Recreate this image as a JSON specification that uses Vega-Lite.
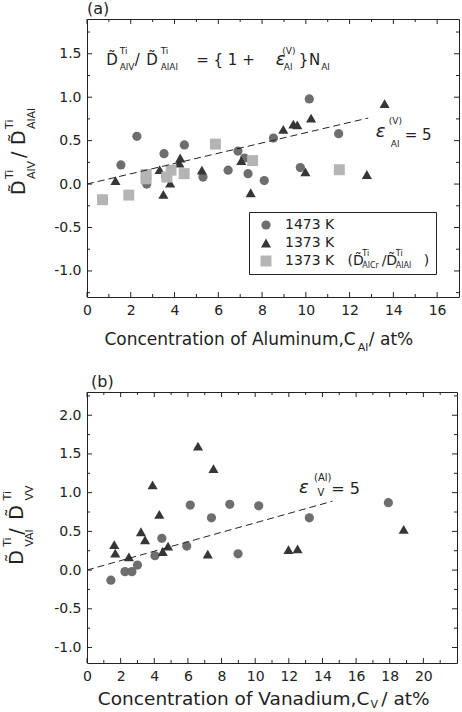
{
"$schema": "https://vega.github.io/schema/vega-lite/v6.json",
"padding": {"left": 1, "top": 0, "right": 0, "bottom": 0},
"spacing": 95,
"bounds": "flush",
"config": {
  "font": "DejaVu Sans",
  "view": {"stroke": "#222", "strokeWidth": 1},
  "axis": {"domain": false, "ticks": false, "tickSize": 0, "grid": false, "labelColor": "#222", "labelFont": "DejaVu Sans", "labelFontSize": 14, "title": null, "labelFlush": false, "labelPadding": 6},
  "text": {"font": "DejaVu Sans", "color": "#222"},
  "title": {"font": "DejaVu Sans", "fontSize": 16, "fontWeight": "normal", "color": "#222", "anchor": "start", "frame": "group"}
},
"datasets": {
  "ptsA": [
    {"s":"1473 K","c":1.55,"r":0.22},{"s":"1473 K","c":2.28,"r":0.55},{"s":"1473 K","c":2.73,"r":0.0},{"s":"1473 K","c":3.52,"r":0.35},{"s":"1473 K","c":3.6,"r":0.09},{"s":"1473 K","c":4.45,"r":0.45},{"s":"1473 K","c":5.3,"r":0.08},{"s":"1473 K","c":6.45,"r":0.16},{"s":"1473 K","c":6.9,"r":0.38},{"s":"1473 K","c":7.2,"r":0.30},{"s":"1473 K","c":7.36,"r":0.12},{"s":"1473 K","c":8.1,"r":0.04},{"s":"1473 K","c":8.52,"r":0.53},{"s":"1473 K","c":9.75,"r":0.19},{"s":"1473 K","c":10.16,"r":0.98},{"s":"1473 K","c":11.5,"r":0.58},
    {"s":"1373 K","c":1.3,"r":0.04},{"s":"1373 K","c":3.32,"r":0.165},{"s":"1373 K","c":3.49,"r":-0.12},{"s":"1373 K","c":3.8,"r":0.01},{"s":"1373 K","c":4.22,"r":0.24},{"s":"1373 K","c":4.26,"r":0.30},{"s":"1373 K","c":5.25,"r":0.16},{"s":"1373 K","c":7.05,"r":0.27},{"s":"1373 K","c":7.48,"r":-0.10},{"s":"1373 K","c":8.97,"r":0.63},{"s":"1373 K","c":9.43,"r":0.69},{"s":"1373 K","c":9.61,"r":0.68},{"s":"1373 K","c":9.98,"r":0.14},{"s":"1373 K","c":10.24,"r":0.76},{"s":"1373 K","c":12.79,"r":0.11},{"s":"1373 K","c":13.6,"r":0.925},
    {"s":"1373 K AlCr","c":0.71,"r":-0.18},{"s":"1373 K AlCr","c":1.91,"r":-0.127},{"s":"1373 K AlCr","c":2.7,"r":0.11},{"s":"1373 K AlCr","c":2.7,"r":0.06},{"s":"1373 K AlCr","c":3.65,"r":0.08},{"s":"1373 K AlCr","c":3.84,"r":0.16},{"s":"1373 K AlCr","c":4.44,"r":0.12},{"s":"1373 K AlCr","c":5.87,"r":0.46},{"s":"1373 K AlCr","c":7.57,"r":0.27},{"s":"1373 K AlCr","c":11.53,"r":0.165}
  ],
  "ptsB": [
    {"s":"1473 K","c":1.42,"r":-0.13},{"s":"1473 K","c":2.26,"r":-0.02},{"s":"1473 K","c":2.67,"r":-0.02},{"s":"1473 K","c":3.0,"r":0.065},{"s":"1473 K","c":4.04,"r":0.185},{"s":"1473 K","c":4.45,"r":0.41},{"s":"1473 K","c":5.93,"r":0.31},{"s":"1473 K","c":6.14,"r":0.84},{"s":"1473 K","c":7.4,"r":0.675},{"s":"1473 K","c":8.49,"r":0.85},{"s":"1473 K","c":8.98,"r":0.21},{"s":"1473 K","c":10.21,"r":0.83},{"s":"1473 K","c":13.22,"r":0.675},{"s":"1473 K","c":17.92,"r":0.87},
    {"s":"1373 K","c":1.62,"r":0.33},{"s":"1373 K","c":1.68,"r":0.22},{"s":"1373 K","c":2.49,"r":0.17},{"s":"1373 K","c":3.21,"r":0.495},{"s":"1373 K","c":3.45,"r":0.39},{"s":"1373 K","c":3.9,"r":1.10},{"s":"1373 K","c":4.3,"r":0.72},{"s":"1373 K","c":4.5,"r":0.24},{"s":"1373 K","c":4.82,"r":0.31},{"s":"1373 K","c":6.6,"r":1.60},{"s":"1373 K","c":7.18,"r":0.205},{"s":"1373 K","c":7.52,"r":1.31},{"s":"1373 K","c":11.98,"r":0.265},{"s":"1373 K","c":12.52,"r":0.275},{"s":"1373 K","c":18.83,"r":0.525}
  ],
  "tkAx": [{"v":0},{"v":2},{"v":4},{"v":6},{"v":8},{"v":10},{"v":12},{"v":14},{"v":16}],
  "tkAxm": [{"v":1},{"v":3},{"v":5},{"v":7},{"v":9},{"v":11},{"v":13},{"v":15}],
  "tkAy": [{"v":-1},{"v":-0.5},{"v":0},{"v":0.5},{"v":1},{"v":1.5}],
  "tkAym": [{"v":-1.25},{"v":-0.75},{"v":-0.25},{"v":0.25},{"v":0.75},{"v":1.25},{"v":1.75}],
  "tkBx": [{"v":0},{"v":2},{"v":4},{"v":6},{"v":8},{"v":10},{"v":12},{"v":14},{"v":16},{"v":18},{"v":20}],
  "tkBxm": [{"v":1},{"v":3},{"v":5},{"v":7},{"v":9},{"v":11},{"v":13},{"v":15},{"v":17},{"v":19},{"v":21}],
  "tkBy": [{"v":-1},{"v":-0.5},{"v":0},{"v":0.5},{"v":1},{"v":1.5},{"v":2}],
  "tkBym": [{"v":-0.75},{"v":-0.25},{"v":0.25},{"v":0.75},{"v":1.25},{"v":1.75},{"v":2.25}],
  "lineA": [{"c":0,"r":0},{"c":12.85,"r":0.76}],
  "lineB": [{"c":0,"r":0},{"c":14.6,"r":0.89}],
  "fAmain": [{"t":"D\u0303","c":0.881,"r":1.43},{"t":"/","c":2.178,"r":1.43},{"t":"D\u0303","c":2.708,"r":1.43},{"t":"= { 1 +","c":4.991,"r":1.43},{"t":"}","c":9.68,"r":1.43},{"t":"N","c":10.15,"r":1.43},{"t":"= 5","c":14.52,"r":0.565}],
  "fAsmall": [{"t":"Ti","c":1.493,"r":1.537},{"t":"AlV","c":1.493,"r":1.346},{"t":"Ti","c":3.365,"r":1.537},{"t":"AlAl","c":3.365,"r":1.346},{"t":"(V)","c":8.927,"r":1.537},{"t":"Al","c":8.995,"r":1.346},{"t":"Al","c":10.7,"r":1.346},{"t":"(V)","c":13.79,"r":0.726},{"t":"Al","c":13.88,"r":0.46}],
  "fAeps": [{"t":"ε","c":8.63,"r":1.43},{"t":"ε","c":13.2,"r":0.6}],
  "lgAsmall": [{"t":"Ti","c":12.58,"r":-0.805},{"t":"AlCr","c":12.58,"r":-0.943},{"t":"Ti","c":14.11,"r":-0.805},{"t":"AlAl","c":14.11,"r":-0.943}],
  "ytAmain": [{"t":"D\u0303","c":-3.105,"r":-0.127},{"t":"/","c":-3.105,"r":0.30},{"t":"D\u0303","c":-3.105,"r":0.449}],
  "ytAsmall": [{"t":"Ti","c":-3.516,"r":0.058},{"t":"AlV","c":-2.511,"r":0.058},{"t":"Ti","c":-3.516,"r":0.634},{"t":"AlAl","c":-2.511,"r":0.634}],
  "xtAmain": [{"t":"Concentration of Aluminum,C","c":12.28,"r":-1.8}],
  "xtAsub": [{"t":"Al","c":12.37,"r":-1.89}],
  "xtArest": [{"t":"/ at%","c":12.88,"r":-1.8}],
  "fBmain": [{"t":"= 5","c":14.52,"r":1.05}],
  "fBsmall": [{"t":"(Al)","c":13.5,"r":1.19},{"t":"V","c":13.7,"r":1.0}],
  "fBeps": [{"t":"ε","c":12.6,"r":1.063}],
  "ytBmain": [{"t":"D\u0303","c":-4.167,"r":0.068},{"t":"/","c":-4.167,"r":0.456},{"t":"D\u0303","c":-4.167,"r":0.65}],
  "ytBsmall": [{"t":"Ti","c":-4.702,"r":0.3},{"t":"VAl","c":-3.393,"r":0.3},{"t":"Ti","c":-4.702,"r":0.9},{"t":"VV","c":-3.393,"r":0.9}],
  "xtBmain": [{"t":"Concentration of Vanadium,C","c":16.79,"r":-1.66}],
  "xtBsub": [{"t":"V","c":16.85,"r":-1.74}],
  "xtBrest": [{"t":"/ at%","c":17.5,"r":-1.66}]
},
"vconcat": [
{
  "title": {"text": "(a)", "offset": 2},
  "width": 372, "height": 278,
  "resolve": {"axis": {"x": "independent", "y": "independent"}},
  "layer": [
    {"data": {"name": "ptsA"},
     "mark": {"type": "point", "filled": true, "opacity": 1, "strokeWidth": 0},
     "encoding": {
       "x": {"field": "c", "type": "quantitative", "scale": {"domain": [0, 17], "nice": false, "zero": false}, "axis": {"orient": "bottom", "values": [0,2,4,6,8,10,12,14,16]}},
       "y": {"field": "r", "type": "quantitative", "scale": {"domain": [-1.3, 1.9], "nice": false, "zero": false}, "axis": {"orient": "left", "values": [-1,-0.5,0,0.5,1,1.5], "labelExpr": "datum.value < 0 ? '-' + format(-datum.value, '.1f') : format(datum.value, '.1f')"}},
       "color": {"field": "s", "type": "nominal", "scale": {"domain": ["1473 K","1373 K","1373 K AlCr"], "range": ["#6e6e6e","#363636","#b4b4b4"]},
         "legend": {"orient": "none", "legendX": 162, "legendY": 193, "title": null, "strokeColor": "#222", "padding": 6, "symbolOffset": 4, "labelOffset": 12, "rowPadding": 4, "labelFontSize": 14, "labelFont": "DejaVu Sans", "labelColor": "#222", "symbolSize": 80, "labelLimit": 400, "labelExpr": "datum.label == '1373 K AlCr' ? '1373 K\u00a0\u00a0\u00a0(D\u0303\u00a0\u00a0\u00a0\u00a0/D\u0303\u00a0\u00a0\u00a0\u00a0\u00a0\u00a0)' : datum.label"}},
       "shape": {"field": "s", "type": "nominal", "scale": {"domain": ["1473 K","1373 K","1373 K AlCr"], "range": ["circle","triangle-up","square"]},
         "legend": {"orient": "none", "legendX": 162, "legendY": 193, "title": null, "strokeColor": "#222", "padding": 6, "symbolOffset": 4, "labelOffset": 12, "rowPadding": 4, "labelFontSize": 14, "labelFont": "DejaVu Sans", "labelColor": "#222", "symbolSize": 80, "labelLimit": 400, "labelExpr": "datum.label == '1373 K AlCr' ? '1373 K\u00a0\u00a0\u00a0(D\u0303\u00a0\u00a0\u00a0\u00a0/D\u0303\u00a0\u00a0\u00a0\u00a0\u00a0\u00a0)' : datum.label"}},
       "size": {"field": "s", "type": "nominal", "scale": {"domain": ["1473 K","1373 K","1373 K AlCr"], "range": [85, 120, 64]}, "legend": null}
     }},
    {"data": {"name": "tkAx"}, "mark": {"type": "tick", "orient": "vertical", "size": 5, "thickness": 1, "yOffset": -2.5, "color": "#222", "opacity": 1},
     "encoding": {"x": {"field": "v", "type": "quantitative", "scale": {"domain": [0, 17], "nice": false, "zero": false}, "axis": null}, "y": {"datum": -1.3, "type": "quantitative", "scale": {"domain": [-1.3, 1.9], "nice": false, "zero": false}, "axis": null}}},
    {"data": {"name": "tkAx"}, "mark": {"type": "tick", "orient": "vertical", "size": 5, "thickness": 1, "yOffset": 2.5, "color": "#222", "opacity": 1},
     "encoding": {"x": {"field": "v", "type": "quantitative", "scale": {"domain": [0, 17], "nice": false, "zero": false}, "axis": null}, "y": {"datum": 1.9, "type": "quantitative", "scale": {"domain": [-1.3, 1.9], "nice": false, "zero": false}, "axis": null}}},
    {"data": {"name": "tkAxm"}, "mark": {"type": "tick", "orient": "vertical", "size": 3, "thickness": 1, "yOffset": -1.5, "color": "#222", "opacity": 1},
     "encoding": {"x": {"field": "v", "type": "quantitative", "scale": {"domain": [0, 17], "nice": false, "zero": false}, "axis": null}, "y": {"datum": -1.3, "type": "quantitative", "scale": {"domain": [-1.3, 1.9], "nice": false, "zero": false}, "axis": null}}},
    {"data": {"name": "tkAxm"}, "mark": {"type": "tick", "orient": "vertical", "size": 3, "thickness": 1, "yOffset": 1.5, "color": "#222", "opacity": 1},
     "encoding": {"x": {"field": "v", "type": "quantitative", "scale": {"domain": [0, 17], "nice": false, "zero": false}, "axis": null}, "y": {"datum": 1.9, "type": "quantitative", "scale": {"domain": [-1.3, 1.9], "nice": false, "zero": false}, "axis": null}}},
    {"data": {"name": "tkAy"}, "mark": {"type": "tick", "orient": "horizontal", "size": 5, "thickness": 1, "xOffset": 2.5, "color": "#222", "opacity": 1},
     "encoding": {"y": {"field": "v", "type": "quantitative", "scale": {"domain": [-1.3, 1.9], "nice": false, "zero": false}, "axis": null}, "x": {"datum": 0, "type": "quantitative", "scale": {"domain": [0, 17], "nice": false, "zero": false}, "axis": null}}},
    {"data": {"name": "tkAy"}, "mark": {"type": "tick", "orient": "horizontal", "size": 5, "thickness": 1, "xOffset": -2.5, "color": "#222", "opacity": 1},
     "encoding": {"y": {"field": "v", "type": "quantitative", "scale": {"domain": [-1.3, 1.9], "nice": false, "zero": false}, "axis": null}, "x": {"datum": 17, "type": "quantitative", "scale": {"domain": [0, 17], "nice": false, "zero": false}, "axis": null}}},
    {"data": {"name": "tkAym"}, "mark": {"type": "tick", "orient": "horizontal", "size": 3, "thickness": 1, "xOffset": 1.5, "color": "#222", "opacity": 1},
     "encoding": {"y": {"field": "v", "type": "quantitative", "scale": {"domain": [-1.3, 1.9], "nice": false, "zero": false}, "axis": null}, "x": {"datum": 0, "type": "quantitative", "scale": {"domain": [0, 17], "nice": false, "zero": false}, "axis": null}}},
    {"data": {"name": "tkAym"}, "mark": {"type": "tick", "orient": "horizontal", "size": 3, "thickness": 1, "xOffset": -1.5, "color": "#222", "opacity": 1},
     "encoding": {"y": {"field": "v", "type": "quantitative", "scale": {"domain": [-1.3, 1.9], "nice": false, "zero": false}, "axis": null}, "x": {"datum": 17, "type": "quantitative", "scale": {"domain": [0, 17], "nice": false, "zero": false}, "axis": null}}},
    {"data": {"name": "lineA"},
     "mark": {"type": "line", "color": "#222", "strokeDash": [7, 4], "strokeWidth": 1},
     "encoding": {
       "x": {"field": "c", "type": "quantitative", "scale": {"domain": [0, 17], "nice": false, "zero": false}, "axis": null},
       "y": {"field": "r", "type": "quantitative", "scale": {"domain": [-1.3, 1.9], "nice": false, "zero": false}, "axis": null}
     }},
    {"data": {"name": "fAmain"},
     "mark": {"type": "text", "align": "left", "baseline": "middle", "fontSize": 15},
     "encoding": {
       "x": {"field": "c", "type": "quantitative", "scale": {"domain": [0, 17], "nice": false, "zero": false}, "axis": null},
       "y": {"field": "r", "type": "quantitative", "scale": {"domain": [-1.3, 1.9], "nice": false, "zero": false}, "axis": null},
       "text": {"field": "t"}
     }},
    {"data": {"name": "fAsmall"},
     "mark": {"type": "text", "align": "left", "baseline": "middle", "fontSize": 9},
     "encoding": {
       "x": {"field": "c", "type": "quantitative", "scale": {"domain": [0, 17], "nice": false, "zero": false}, "axis": null},
       "y": {"field": "r", "type": "quantitative", "scale": {"domain": [-1.3, 1.9], "nice": false, "zero": false}, "axis": null},
       "text": {"field": "t"}
     }},
    {"data": {"name": "fAeps"},
     "mark": {"type": "text", "align": "left", "baseline": "middle", "fontSize": 18, "fontStyle": "italic"},
     "encoding": {
       "x": {"field": "c", "type": "quantitative", "scale": {"domain": [0, 17], "nice": false, "zero": false}, "axis": null},
       "y": {"field": "r", "type": "quantitative", "scale": {"domain": [-1.3, 1.9], "nice": false, "zero": false}, "axis": null},
       "text": {"field": "t"}
     }},
    {"data": {"name": "lgAsmall"},
     "mark": {"type": "text", "align": "left", "baseline": "middle", "fontSize": 8},
     "encoding": {
       "x": {"field": "c", "type": "quantitative", "scale": {"domain": [0, 17], "nice": false, "zero": false}, "axis": null},
       "y": {"field": "r", "type": "quantitative", "scale": {"domain": [-1.3, 1.9], "nice": false, "zero": false}, "axis": null},
       "text": {"field": "t"}
     }},
    {"data": {"name": "ytAmain"},
     "mark": {"type": "text", "align": "left", "baseline": "middle", "fontSize": 19, "angle": 270},
     "encoding": {
       "x": {"field": "c", "type": "quantitative", "scale": {"domain": [0, 17], "nice": false, "zero": false}, "axis": null},
       "y": {"field": "r", "type": "quantitative", "scale": {"domain": [-1.3, 1.9], "nice": false, "zero": false}, "axis": null},
       "text": {"field": "t"}
     }},
    {"data": {"name": "ytAsmall"},
     "mark": {"type": "text", "align": "left", "baseline": "middle", "fontSize": 11, "angle": 270},
     "encoding": {
       "x": {"field": "c", "type": "quantitative", "scale": {"domain": [0, 17], "nice": false, "zero": false}, "axis": null},
       "y": {"field": "r", "type": "quantitative", "scale": {"domain": [-1.3, 1.9], "nice": false, "zero": false}, "axis": null},
       "text": {"field": "t"}
     }},
    {"data": {"name": "xtAmain"},
     "mark": {"type": "text", "align": "right", "baseline": "middle", "fontSize": 17},
     "encoding": {
       "x": {"field": "c", "type": "quantitative", "scale": {"domain": [0, 17], "nice": false, "zero": false}, "axis": null},
       "y": {"field": "r", "type": "quantitative", "scale": {"domain": [-1.3, 1.9], "nice": false, "zero": false}, "axis": null},
       "text": {"field": "t"}
     }},
    {"data": {"name": "xtAsub"},
     "mark": {"type": "text", "align": "left", "baseline": "middle", "fontSize": 11},
     "encoding": {
       "x": {"field": "c", "type": "quantitative", "scale": {"domain": [0, 17], "nice": false, "zero": false}, "axis": null},
       "y": {"field": "r", "type": "quantitative", "scale": {"domain": [-1.3, 1.9], "nice": false, "zero": false}, "axis": null},
       "text": {"field": "t"}
     }},
    {"data": {"name": "xtArest"},
     "mark": {"type": "text", "align": "left", "baseline": "middle", "fontSize": 17},
     "encoding": {
       "x": {"field": "c", "type": "quantitative", "scale": {"domain": [0, 17], "nice": false, "zero": false}, "axis": null},
       "y": {"field": "r", "type": "quantitative", "scale": {"domain": [-1.3, 1.9], "nice": false, "zero": false}, "axis": null},
       "text": {"field": "t"}
     }}
  ]
},
{
  "title": {"text": "(b)", "offset": 2, "dx": 4},
  "width": 370, "height": 271,
  "resolve": {"axis": {"x": "independent", "y": "independent"}},
  "layer": [
    {"data": {"name": "ptsB"},
     "mark": {"type": "point", "filled": true, "opacity": 1, "strokeWidth": 0},
     "encoding": {
       "x": {"field": "c", "type": "quantitative", "scale": {"domain": [0, 22], "nice": false, "zero": false}, "axis": {"orient": "bottom", "values": [0,2,4,6,8,10,12,14,16,18,20]}},
       "y": {"field": "r", "type": "quantitative", "scale": {"domain": [-1.2, 2.3], "nice": false, "zero": false}, "axis": {"orient": "left", "values": [-1,-0.5,0,0.5,1,1.5,2], "labelExpr": "datum.value < 0 ? '-' + format(-datum.value, '.1f') : format(datum.value, '.1f')"}},
       "color": {"field": "s", "type": "nominal", "scale": {"domain": ["1473 K","1373 K"], "range": ["#6e6e6e","#363636"]},
         "legend": {"orient": "none", "legendX": 236, "legendY": 193, "title": null, "strokeColor": "#222", "padding": 6, "symbolOffset": 4, "labelOffset": 17, "rowPadding": 4, "labelFontSize": 14, "labelFont": "DejaVu Sans", "labelColor": "#222", "symbolSize": 80}},
       "shape": {"field": "s", "type": "nominal", "scale": {"domain": ["1473 K","1373 K"], "range": ["circle","triangle-up"]},
         "legend": {"orient": "none", "legendX": 236, "legendY": 193, "title": null, "strokeColor": "#222", "padding": 6, "symbolOffset": 4, "labelOffset": 17, "rowPadding": 4, "labelFontSize": 14, "labelFont": "DejaVu Sans", "labelColor": "#222", "symbolSize": 80}},
       "size": {"field": "s", "type": "nominal", "scale": {"domain": ["1473 K","1373 K"], "range": [85, 120]}, "legend": null}
     }},
    {"data": {"name": "tkBx"}, "mark": {"type": "tick", "orient": "vertical", "size": 5, "thickness": 1, "yOffset": -2.5, "color": "#222", "opacity": 1},
     "encoding": {"x": {"field": "v", "type": "quantitative", "scale": {"domain": [0, 22], "nice": false, "zero": false}, "axis": null}, "y": {"datum": -1.2, "type": "quantitative", "scale": {"domain": [-1.2, 2.3], "nice": false, "zero": false}, "axis": null}}},
    {"data": {"name": "tkBx"}, "mark": {"type": "tick", "orient": "vertical", "size": 5, "thickness": 1, "yOffset": 2.5, "color": "#222", "opacity": 1},
     "encoding": {"x": {"field": "v", "type": "quantitative", "scale": {"domain": [0, 22], "nice": false, "zero": false}, "axis": null}, "y": {"datum": 2.3, "type": "quantitative", "scale": {"domain": [-1.2, 2.3], "nice": false, "zero": false}, "axis": null}}},
    {"data": {"name": "tkBxm"}, "mark": {"type": "tick", "orient": "vertical", "size": 3, "thickness": 1, "yOffset": -1.5, "color": "#222", "opacity": 1},
     "encoding": {"x": {"field": "v", "type": "quantitative", "scale": {"domain": [0, 22], "nice": false, "zero": false}, "axis": null}, "y": {"datum": -1.2, "type": "quantitative", "scale": {"domain": [-1.2, 2.3], "nice": false, "zero": false}, "axis": null}}},
    {"data": {"name": "tkBxm"}, "mark": {"type": "tick", "orient": "vertical", "size": 3, "thickness": 1, "yOffset": 1.5, "color": "#222", "opacity": 1},
     "encoding": {"x": {"field": "v", "type": "quantitative", "scale": {"domain": [0, 22], "nice": false, "zero": false}, "axis": null}, "y": {"datum": 2.3, "type": "quantitative", "scale": {"domain": [-1.2, 2.3], "nice": false, "zero": false}, "axis": null}}},
    {"data": {"name": "tkBy"}, "mark": {"type": "tick", "orient": "horizontal", "size": 5, "thickness": 1, "xOffset": 2.5, "color": "#222", "opacity": 1},
     "encoding": {"y": {"field": "v", "type": "quantitative", "scale": {"domain": [-1.2, 2.3], "nice": false, "zero": false}, "axis": null}, "x": {"datum": 0, "type": "quantitative", "scale": {"domain": [0, 22], "nice": false, "zero": false}, "axis": null}}},
    {"data": {"name": "tkBy"}, "mark": {"type": "tick", "orient": "horizontal", "size": 5, "thickness": 1, "xOffset": -2.5, "color": "#222", "opacity": 1},
     "encoding": {"y": {"field": "v", "type": "quantitative", "scale": {"domain": [-1.2, 2.3], "nice": false, "zero": false}, "axis": null}, "x": {"datum": 22, "type": "quantitative", "scale": {"domain": [0, 22], "nice": false, "zero": false}, "axis": null}}},
    {"data": {"name": "tkBym"}, "mark": {"type": "tick", "orient": "horizontal", "size": 3, "thickness": 1, "xOffset": 1.5, "color": "#222", "opacity": 1},
     "encoding": {"y": {"field": "v", "type": "quantitative", "scale": {"domain": [-1.2, 2.3], "nice": false, "zero": false}, "axis": null}, "x": {"datum": 0, "type": "quantitative", "scale": {"domain": [0, 22], "nice": false, "zero": false}, "axis": null}}},
    {"data": {"name": "tkBym"}, "mark": {"type": "tick", "orient": "horizontal", "size": 3, "thickness": 1, "xOffset": -1.5, "color": "#222", "opacity": 1},
     "encoding": {"y": {"field": "v", "type": "quantitative", "scale": {"domain": [-1.2, 2.3], "nice": false, "zero": false}, "axis": null}, "x": {"datum": 22, "type": "quantitative", "scale": {"domain": [0, 22], "nice": false, "zero": false}, "axis": null}}},
    {"data": {"name": "lineB"},
     "mark": {"type": "line", "color": "#222", "strokeDash": [7, 4], "strokeWidth": 1},
     "encoding": {
       "x": {"field": "c", "type": "quantitative", "scale": {"domain": [0, 22], "nice": false, "zero": false}, "axis": null},
       "y": {"field": "r", "type": "quantitative", "scale": {"domain": [-1.2, 2.3], "nice": false, "zero": false}, "axis": null}
     }},
    {"data": {"name": "fBmain"},
     "mark": {"type": "text", "align": "left", "baseline": "middle", "fontSize": 16},
     "encoding": {
       "x": {"field": "c", "type": "quantitative", "scale": {"domain": [0, 22], "nice": false, "zero": false}, "axis": null},
       "y": {"field": "r", "type": "quantitative", "scale": {"domain": [-1.2, 2.3], "nice": false, "zero": false}, "axis": null},
       "text": {"field": "t"}
     }},
    {"data": {"name": "fBsmall"},
     "mark": {"type": "text", "align": "left", "baseline": "middle", "fontSize": 10},
     "encoding": {
       "x": {"field": "c", "type": "quantitative", "scale": {"domain": [0, 22], "nice": false, "zero": false}, "axis": null},
       "y": {"field": "r", "type": "quantitative", "scale": {"domain": [-1.2, 2.3], "nice": false, "zero": false}, "axis": null},
       "text": {"field": "t"}
     }},
    {"data": {"name": "fBeps"},
     "mark": {"type": "text", "align": "left", "baseline": "middle", "fontSize": 18, "fontStyle": "italic"},
     "encoding": {
       "x": {"field": "c", "type": "quantitative", "scale": {"domain": [0, 22], "nice": false, "zero": false}, "axis": null},
       "y": {"field": "r", "type": "quantitative", "scale": {"domain": [-1.2, 2.3], "nice": false, "zero": false}, "axis": null},
       "text": {"field": "t"}
     }},
    {"data": {"name": "ytBmain"},
     "mark": {"type": "text", "align": "left", "baseline": "middle", "fontSize": 19, "angle": 270},
     "encoding": {
       "x": {"field": "c", "type": "quantitative", "scale": {"domain": [0, 22], "nice": false, "zero": false}, "axis": null},
       "y": {"field": "r", "type": "quantitative", "scale": {"domain": [-1.2, 2.3], "nice": false, "zero": false}, "axis": null},
       "text": {"field": "t"}
     }},
    {"data": {"name": "ytBsmall"},
     "mark": {"type": "text", "align": "left", "baseline": "middle", "fontSize": 11, "angle": 270},
     "encoding": {
       "x": {"field": "c", "type": "quantitative", "scale": {"domain": [0, 22], "nice": false, "zero": false}, "axis": null},
       "y": {"field": "r", "type": "quantitative", "scale": {"domain": [-1.2, 2.3], "nice": false, "zero": false}, "axis": null},
       "text": {"field": "t"}
     }},
    {"data": {"name": "xtBmain"},
     "mark": {"type": "text", "align": "right", "baseline": "middle", "fontSize": 18.5},
     "encoding": {
       "x": {"field": "c", "type": "quantitative", "scale": {"domain": [0, 22], "nice": false, "zero": false}, "axis": null},
       "y": {"field": "r", "type": "quantitative", "scale": {"domain": [-1.2, 2.3], "nice": false, "zero": false}, "axis": null},
       "text": {"field": "t"}
     }},
    {"data": {"name": "xtBsub"},
     "mark": {"type": "text", "align": "left", "baseline": "middle", "fontSize": 11},
     "encoding": {
       "x": {"field": "c", "type": "quantitative", "scale": {"domain": [0, 22], "nice": false, "zero": false}, "axis": null},
       "y": {"field": "r", "type": "quantitative", "scale": {"domain": [-1.2, 2.3], "nice": false, "zero": false}, "axis": null},
       "text": {"field": "t"}
     }},
    {"data": {"name": "xtBrest"},
     "mark": {"type": "text", "align": "left", "baseline": "middle", "fontSize": 18.5},
     "encoding": {
       "x": {"field": "c", "type": "quantitative", "scale": {"domain": [0, 22], "nice": false, "zero": false}, "axis": null},
       "y": {"field": "r", "type": "quantitative", "scale": {"domain": [-1.2, 2.3], "nice": false, "zero": false}, "axis": null},
       "text": {"field": "t"}
     }}
  ]
}
]
}
